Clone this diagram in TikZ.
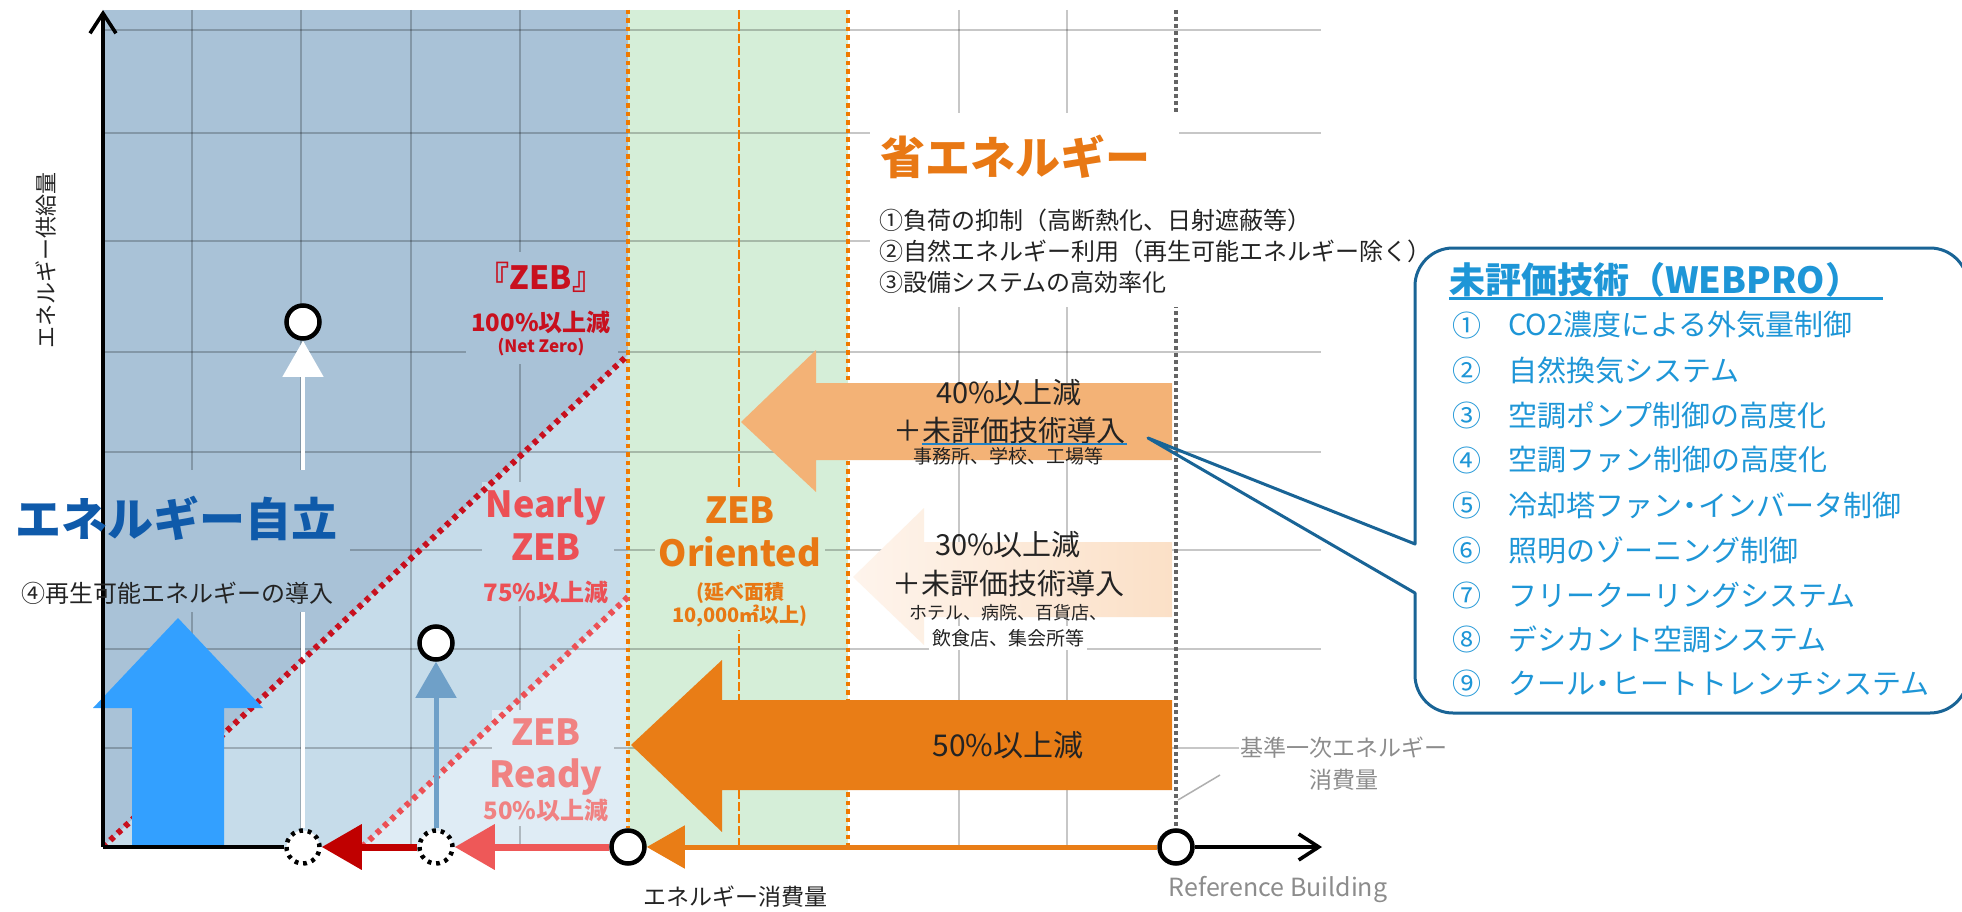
\documentclass[tikz,border=0pt]{standalone}
\usepackage{fontspec}
\setmainfont{Noto Sans CJK JP}
\usetikzlibrary{arrows.meta,calc}
\pgfdeclarelayer{back}
\pgfsetlayers{back,main}
\newcommand\fsz[2]{\fontsize{#1}{#2}\selectfont}
\newcommand\nakaguro{\hspace{-0.22em}・\hspace{-0.22em}}
\definecolor{bgdark}{RGB}{169,194,215}
\definecolor{bgmid}{RGB}{198,220,234}
\definecolor{bglight}{RGB}{223,236,245}
\definecolor{bggreen}{RGB}{213,238,216}
\definecolor{orng}{RGB}{233,125,22}
\definecolor{orngline}{RGB}{240,122,0}
\definecolor{orngtxt}{RGB}{232,120,20}
\definecolor{orlight}{RGB}{243,178,118}
\definecolor{peachL}{RGB}{254,244,236}
\definecolor{peachR}{RGB}{251,224,199}
\definecolor{zebred}{RGB}{200,16,30}
\definecolor{nzred}{RGB}{236,80,85}
\definecolor{zrred}{RGB}{240,130,130}
\definecolor{darkred}{RGB}{192,0,0}
\definecolor{lightred}{RGB}{238,88,88}
\definecolor{steel}{RGB}{111,160,200}
\definecolor{bigblue}{RGB}{51,160,255}
\definecolor{jiritsu}{RGB}{15,90,170}
\definecolor{txt}{RGB}{35,35,35}
\definecolor{refgray}{RGB}{100,100,100}
\definecolor{lblgray}{RGB}{140,140,140}
\definecolor{calloutline}{RGB}{25,100,150}
\definecolor{callouttext}{RGB}{30,150,215}
\definecolor{ulblue}{RGB}{30,130,200}
\tikzset{
  gridln/.style={draw=black, draw opacity=0.22, line width=1.3},
  axisln/.style={line width=3.6, draw=black},
  circ/.style={circle, draw=black, fill=white, line width=4.5, minimum size=33, inner sep=0pt},
  dcirc/.style={circle, draw=black, fill=white, line width=4.5, dash pattern=on 3.8pt off 4.84pt, minimum size=33, inner sep=0pt},
  odot/.style={draw=orngline, line width=4.5, dash pattern=on 4.5pt off 4pt},
  rdot/.style={line width=6, dash pattern=on 5pt off 5pt},
  refln/.style={draw=refgray, line width=3.5, dash pattern=on 4pt off 3pt},
  lbl/.style={inner sep=0pt, align=center},
  itm/.style={anchor=west, inner sep=0pt, text=callouttext, font=\fsz{29}{33}},
  num/.style={inner sep=0pt, text=callouttext, font=\fsz{29}{33}},
  bighead/.style={-{Triangle[length=40pt,width=44pt]}},
  uphead/.style={-{Triangle[length=36pt,width=40pt]}},
  barb/.style={-{Straight Barb[length=20pt,width=26pt]}},
}
\begin{document}
\begin{tikzpicture}[x=1pt,y=-1pt]
\useasboundingbox (0,0) rectangle (1962,912);
% circles
\node[circ] (c1) at (303,322) {};
\node[circ] (c2) at (436,643) {};
\node[dcirc] (d1) at (303,847) {};
\node[dcirc] (d2) at (436,847) {};
\node[circ] (zr) at (628,847) {};
\node[circ] (rb) at (1176,847) {};
\coordinate (org) at (103,847);
\coordinate (ytop) at (103,10);
\coordinate (xend) at (1322,847);
\coordinate (ptip) at (1148,438);
\coordinate (tk1) at (1178,800);
\coordinate (tk2) at (1220,775);

\begin{pgfonlayer}{back}
\fill[white] (0,0) rectangle (1962,912);
\fill[bgdark] (103,10) rectangle (628,847);
\fill[bgmid] (103,847) -- (628,355) -- (628,847) -- cycle;
\fill[bglight] (362,847) -- (628,597) -- (628,847) -- cycle;
\fill[bggreen] (628,10) rectangle (848,847);
\foreach \y in {30,133,241,352,452,550,649,748} \draw[gridln] (103,\y) -- (1321,\y);
\foreach \x in {192,301,411,520,959,1067} \draw[gridln] (\x,10) -- (\x,847);
\draw[refln] (1176,10) -- (rb.north);
\draw[draw=orngline, line width=2, dash pattern=on 9pt off 3pt] (739,10) -- (739,847);
\draw[draw=white, line width=4.5, uphead] (d1.north) -- (c1.south);
% masks behind texts
\fill[bgdark] (104,470) rectangle (350,612);
\fill[bgdark] (466,252) rectangle (618,364);
\fill[bgmid] (482,482) rectangle (614,606);
\fill[bglight] (492,710) rectangle (614,826);
\fill[bggreen] (655,488) rectangle (825,630);
\fill[white] (870,113) rectangle (1179,190);
\fill[white] (870,190) rectangle (1412,307);
% orange dotted
\draw[odot] (628,10) -- (zr.north);
\draw[odot] (848,10) -- (848,847);
% red dotted
\draw[rdot, draw=zebred] (org) -- (628,355);
\draw[rdot, draw=nzred] (362,847) -- (628,597);
% big arrows
\fill[bigblue] (132,847) -- (132,708) -- (93,708) -- (178,618) -- (263,708) -- (224,708) -- (224,847) -- cycle;
\fill[orlight] (1172,383) -- (816,383) -- (816,350) -- (741,422) -- (816,492) -- (816,460) -- (1172,460) -- cycle;
\shade[left color=peachL, right color=peachR] (1172,542) -- (924,542) -- (924,508) -- (853,577) -- (924,645) -- (924,617) -- (1172,617) -- cycle;
\fill[orng] (1172,700) -- (722,700) -- (722,660) -- (631,745) -- (722,832) -- (722,790) -- (1172,790) -- cycle;
\end{pgfonlayer}

% axes
\draw[axisln] (org) -- (d1.west);
\draw[axisln, barb] (org) -- (ytop);
\draw[axisln, barb] (rb.east) -- (xend);
% arrows
\draw[draw=steel, line width=5, uphead] (d2.north) -- (c2.south);
\draw[draw=darkred, line width=7, bighead] (d2.west) -- (d1.east);
\draw[draw=lightred, line width=7, bighead] (zr.west) -- (d2.east);
\draw[draw=orng, line width=5, -{Triangle[length=38pt,width=42pt]}] (rb.west) -- (zr.east);

% left texts
\node[lbl, rotate=90, font=\fsz{22}{26}, text=txt] (ylab) at (46,260) {エネルギー供給量};
\node[lbl, font=\fsz{46}{50}\bfseries, text=jiritsu] (jir) at (177,518) {エネルギー自立};
\node[lbl, font=\fsz{24}{28}, text=txt] (renew) at (177,593) {④再生可能エネルギーの導入};
\node[lbl, font=\fsz{32}{36}\bfseries, text=zebred] (zeb) at (541,277) {『ZEB』};
\node[lbl, font=\fsz{24}{28}\bfseries, text=zebred] (zeb100) at (541,322) {100\%以上減};
\node[lbl, font=\fsz{17}{20}\bfseries, text=zebred] (zebnz) at (541,347) {(Net Zero)};
\node[lbl, font=\fsz{36}{40}\bfseries, text=nzred] (nz1) at (546,507) {Nearly};
\node[lbl, font=\fsz{36}{40}\bfseries, text=nzred] (nz2) at (546,547) {ZEB};
\node[lbl, font=\fsz{24}{28}\bfseries, text=nzred] (nz3) at (546,592) {75\%以上減};
\node[lbl, font=\fsz{36}{40}\bfseries, text=zrred] (zr1) at (546,732) {ZEB};
\node[lbl, font=\fsz{36}{40}\bfseries, text=zrred] (zr2) at (546,777) {Ready};
\node[lbl, font=\fsz{24}{28}\bfseries, text=zrred] (zr3) at (546,810) {50\%以上減};
% green zone texts
\node[lbl, font=\fsz{36}{40}\bfseries, text=orngtxt] (zo1) at (740,510) {ZEB};
\node[lbl, font=\fsz{36}{40}\bfseries, text=orngtxt] (zo2) at (740,552) {Oriented};
\node[lbl, font=\fsz{20}{24}\bfseries, text=orngtxt] (zo3) at (740,593) {(延べ面積};
\node[lbl, font=\fsz{20}{24}\bfseries, text=orngtxt] (zo4) at (740,616) {10,000㎡以上)};
% right texts
\node[lbl, font=\fsz{45}{50}\bfseries, text=orngtxt] (sho) at (1015,157) {省エネルギー};
\node[lbl, anchor=west, font=\fsz{24}{28}, text=txt] (m1) at (879,220) {①負荷の抑制（高断熱化、日射遮蔽等）};
\node[lbl, anchor=west, font=\fsz{24}{28}, text=txt] (m2) at (879,251) {②自然エネルギー利用（再生可能エネルギー除く）};
\node[lbl, anchor=west, font=\fsz{24}{28}, text=txt] (m3) at (879,282) {③設備システムの高効率化};
\node[lbl, font=\fsz{29}{33}, text=txt] (t40a) at (1009,393) {40\%以上減};
\node[lbl, font=\fsz{29}{33}, text=txt] (t40b) at (1009,430) {＋未評価技術導入};
\draw[draw=ulblue, line width=2] ($(t40b.base west)+(29,3)$) -- ($(t40b.base east)+(2,3)$);
\node[lbl, font=\fsz{19}{22}, text=txt] (t40c) at (1008,456) {事務所、学校、工場等};
\node[lbl, font=\fsz{29}{33}, text=txt] (t30a) at (1008,545) {30\%以上減};
\node[lbl, font=\fsz{29}{33}, text=txt] (t30b) at (1008,583) {＋未評価技術導入};
\node[lbl, font=\fsz{18}{22}, text=txt] (t30c) at (1008,613) {ホテル、病院、百貨店、};
\node[lbl, font=\fsz{19}{22}, text=txt, fill=white, inner sep=3pt] (t30d) at (1008,638) {飲食店、集会所等};
\node[lbl, font=\fsz{30}{34}, text=txt] (t50) at (1008,745) {50\%以上減};
% bottom labels
\node[lbl, font=\fsz{23}{26}, text=txt] (xlab) at (735,897) {エネルギー消費量};
\node[lbl, font=\fsz{25}{28}, text=lblgray] (refb) at (1278,890) {Reference Building};
\node[lbl, font=\fsz{23}{26}, text=lblgray, fill=white, inner sep=2pt] (kij1) at (1344,748) {基準一次エネルギー};
\node[lbl, font=\fsz{23}{26}, text=lblgray] (kij2) at (1344,780) {消費量};
\draw[draw=lblgray!70, line width=1.5] (tk1) -- (tk2);
% callout
\draw[draw=calloutline, line width=3, line join=round]
  (1415,544) -- (1415,286) arc[start angle=180, end angle=270, radius=38]
  -- (1930,248) arc[start angle=270, end angle=360, radius=38]
  -- (1968,675) arc[start angle=0, end angle=90, radius=38]
  -- (1453,713) arc[start angle=90, end angle=180, radius=38]
  -- (1415,593) -- (ptip) -- cycle;
\node[anchor=west, inner sep=0pt, text=callouttext, font=\fsz{36}{40}\bfseries] (ttl) at (1449,280) {未評価技術（WEBPRO）};
\draw[draw=callouttext, line width=2.5] ($(ttl.base west)+(0,5)$) -- ($(ttl.base east)+(22,5)$);
\node[num] (n1) at (1467,325) {①};
\node[itm] (i1) at (1508,325) {CO2濃度による外気量制御};
\node[num] (n2) at (1467,370) {②};
\node[itm] (i2) at (1508,370) {自然換気システム};
\node[num] (n3) at (1467,415) {③};
\node[itm] (i3) at (1508,415) {空調ポンプ制御の高度化};
\node[num] (n4) at (1467,460) {④};
\node[itm] (i4) at (1508,460) {空調ファン制御の高度化};
\node[num] (n5) at (1467,505) {⑤};
\node[itm] (i5) at (1508,505) {冷却塔ファン\nakaguro インバータ制御};
\node[num] (n6) at (1467,550) {⑥};
\node[itm] (i6) at (1508,550) {照明のゾーニング制御};
\node[num] (n7) at (1467,595) {⑦};
\node[itm] (i7) at (1508,595) {フリークーリングシステム};
\node[num] (n8) at (1467,639) {⑧};
\node[itm] (i8) at (1508,639) {デシカント空調システム};
\node[num] (n9) at (1467,683) {⑨};
\node[itm] (i9) at (1508,683) {クール\nakaguro ヒートトレンチシステム};
\end{tikzpicture}
\end{document}
